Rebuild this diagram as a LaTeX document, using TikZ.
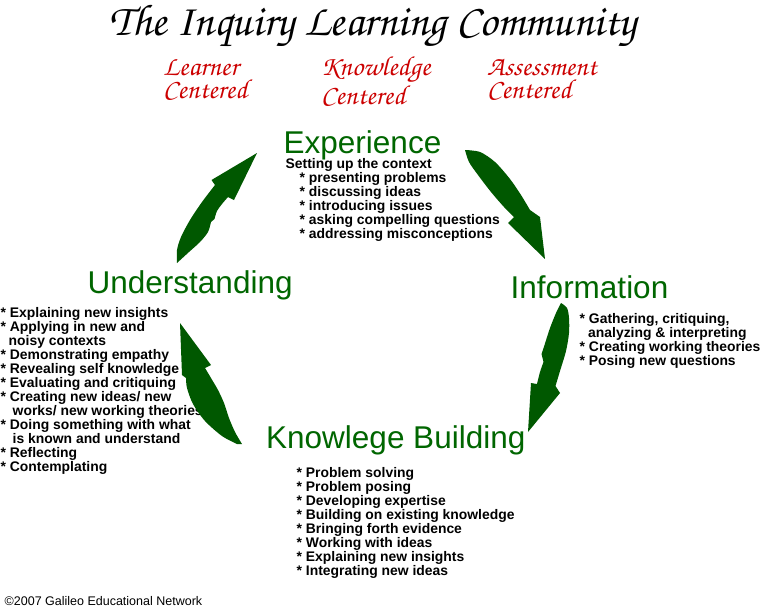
\documentclass[tikz,border=0pt]{standalone}
\usepackage[T1]{fontenc}
\usepackage{fontspec}
\setmainfont{Liberation Sans}
\definecolor{stagegreen}{RGB}{0,102,0}
\definecolor{arrowgreen}{RGB}{0,88,0}
\definecolor{centred}{RGB}{204,0,0}
\newcommand\chancery{\fontencoding{T1}\fontfamily{pzc}\fontseries{mb}\fontshape{it}\selectfont}
\begin{document}
\begin{tikzpicture}[x=1pt,y=-1pt,
  stage/.style={font=\fontsize{31.5}{36}\selectfont, text=stagegreen, inner sep=0, anchor=base west},
  listtxt/.style={font=\bfseries\fontsize{13.9}{14}\selectfont, inner sep=0, anchor=base west},
  centerlbl/.style={font=\chancery\fontsize{27.5}{23}\selectfont, text=centred, inner sep=0, anchor=base west},
  titletxt/.style={font=\chancery\fontsize{44.5}{46}\selectfont, inner sep=0, anchor=base west},
  bigarrow/.style={fill=arrowgreen}]
\fill[white] (0,0) rectangle (762,611);
\useasboundingbox (0,0) rectangle (762,611);

% title
\node[titletxt] (title) at (109,35) {The Inquiry Learning Community};
\node[centerlbl] (learner) at (163,75) {\vtop{\hbox{Learner}\hbox{Centered}}};
\node[centerlbl] (knowledge) at (321,75) {\vtop{\hbox{Knowledge}\hbox{Centered}}};
\node[centerlbl] (assessment) at (487,75) {\vtop{\hbox{Assessment}\hbox{Centered}}};

% stages
\node[stage] (exp) at (283.5,153) {Experience};
\node[stage] (und) at (87.5,293.5) {Understanding};
\node[stage] (inf) at (510.5,298.5) {Information};
\node[stage] (kb) at (266,448.5) {Knowlege Building};

% lists
\node[listtxt] (explist) at (285.5,168) {\vtop{%
  \hbox{Setting up the context}%
  \hbox{\kern14pt* presenting problems}%
  \hbox{\kern14pt* discussing ideas}%
  \hbox{\kern14pt* introducing issues}%
  \hbox{\kern14pt* asking compelling questions}%
  \hbox{\kern14pt* addressing misconceptions}}};

\node[listtxt] (undlist) at (0.5,317) {\vtop{%
  \hbox{* Explaining new insights}%
  \hbox{* Applying in new and}%
  \hbox{\kern8pt noisy contexts}%
  \hbox{* Demonstrating empathy}%
  \hbox{* Revealing self knowledge}%
  \hbox{* Evaluating and critiquing}%
  \hbox{* Creating new ideas/ new}%
  \hbox{\kern12pt works/ new working theories}%
  \hbox{* Doing something with what}%
  \hbox{\kern12pt is known and understand}%
  \hbox{* Reflecting}%
  \hbox{* Contemplating}}};

\node[listtxt] (inflist) at (579.5,323.5) {\vtop{%
  \hbox{* Gathering, critiquing,}%
  \hbox{\kern8.5pt analyzing \& interpreting}%
  \hbox{* Creating working theories}%
  \hbox{* Posing new questions}}};

\node[listtxt] (kblist) at (296.5,477) {\vtop{%
  \hbox{* Problem solving}%
  \hbox{* Problem posing}%
  \hbox{* Developing expertise}%
  \hbox{* Building on existing knowledge}%
  \hbox{* Bringing forth evidence}%
  \hbox{* Working with ideas}%
  \hbox{* Explaining new insights}%
  \hbox{* Integrating new ideas}}};

\node[font=\fontsize{12.5}{14}\selectfont, inner sep=0, anchor=base west] (copy) at (4.5,605) {©2007 Galileo Educational Network};

% arrow Understanding -> Experience
\fill[bigarrow] plot[smooth] coordinates {(177,263) (177,250) (181,237) (190,220) (202,202) (215,185)}
  -- (211.5,180) -- (257,153) -- (234,200) -- (228,197)
  -- plot[smooth] coordinates {(228,197) (222,204) (217,211) (214.5,219)}
  -- (211,222)
  -- plot[smooth] coordinates {(211,222) (208,232) (200,242) (189,252) (177,263)} -- cycle;

% arrow Experience -> Information
\fill[bigarrow] plot[smooth] coordinates {(465,150) (480,152) (495,162) (510,179) (521,195) (530,210)}
  -- (540,217) -- (545,259) -- (508,223) -- (514,217)
  -- plot[smooth] coordinates {(514,217) (504,207) (491,192) (478,175) (469,162) (465,150)} -- cycle;

% arrow Information -> Knowledge Building
\fill[bigarrow] plot[smooth] coordinates {(561,303) (567,308) (569,318) (569,333) (566,351) (560,371) (555.5,386)}
  -- (560,393) -- (528,432) -- (531,383) -- (537,384)
  -- plot[smooth] coordinates {(537,384) (540,372) (543.5,362)}
  -- (541.5,354)
  -- plot[smooth] coordinates {(541.5,354) (544.5,345) (550,328) (556,313) (561,303)} -- cycle;

% arrow Knowledge Building -> Understanding
\fill[bigarrow] (180,323) -- (211,365) -- (205,368)
  -- plot[smooth] coordinates {(205,368) (211,378) (218,390) (224,403) (229,418) (235,432) (242,444)}
  -- (237,444)
  -- plot[smooth] coordinates {(237,444) (222,436) (205,421) (193,404) (187,388) (186,378)}
  -- (182,375) -- cycle;
\end{tikzpicture}
\end{document}
